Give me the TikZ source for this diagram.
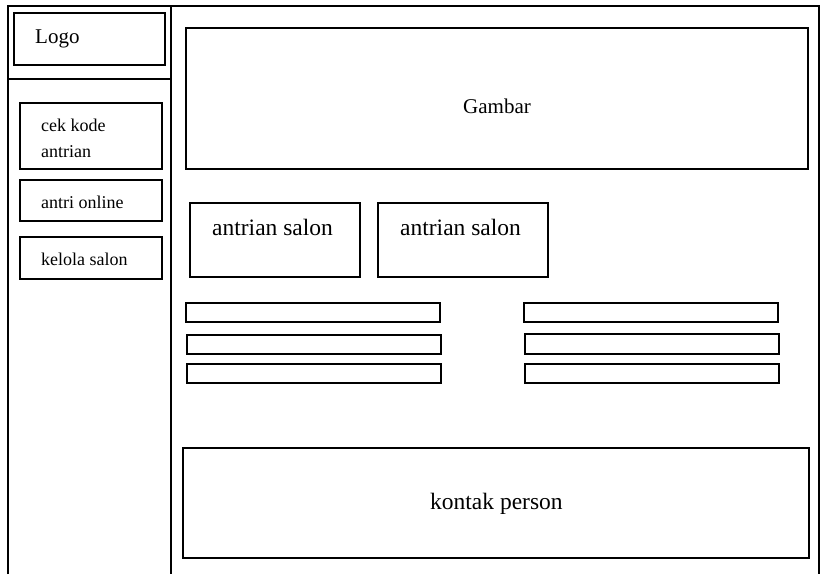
\documentclass[tikz,border=0pt]{standalone}
\usepackage{fontspec}
\setmainfont{Liberation Serif}
\tikzset{
  px/.style={x=1pt,y=-1pt},
  frame/.style={line width=1.6pt},
  boxnode/.style={draw,line width=1.6pt,rectangle,inner sep=0pt,outer sep=0pt,anchor=north west},
  smalltxt/.style={anchor=base west,inner sep=0pt,font=\fontsize{18}{26}\selectfont},
  midtxt/.style={anchor=base west,inner sep=0pt,font=\fontsize{21}{26}\selectfont},
  bigtxt/.style={anchor=base west,inner sep=0pt,font=\fontsize{23.5}{28}\selectfont},
}
\newcommand{\bx}[5]{\node[boxnode,minimum width=#4pt-#2pt,minimum height=#5pt-#3pt] (#1) at (#2,#3) {};}
\begin{document}
\begin{tikzpicture}[px]
\useasboundingbox (0,0) rectangle (822,574);
% outer frame
\coordinate (fbl) at (8,574);
\coordinate (ftl) at (8,6);
\coordinate (ftr) at (819,6);
\coordinate (fbr) at (819,574);
\coordinate (dtop) at (171,6);
\coordinate (dbot) at (171,574);
\coordinate (hl) at (8,79);
\coordinate (hr) at (171,79);
\draw[frame] (fbl) -- (ftl) -- (ftr) -- (fbr);
\draw[frame] (dtop) -- (dbot);
\draw[frame] (hl) -- (hr);
% sidebar
\bx{logo}{14}{13}{165}{65}
\bx{cek}{20}{103}{162}{169}
\bx{antri}{20}{180}{162}{221}
\bx{kelola}{20}{237}{162}{279}
\node[midtxt] (tlogo) at (35,43) {Logo};
\node[smalltxt] (tcek1) at (41,131) {cek kode};
\node[smalltxt] (tcek2) at (41,157) {antrian};
\node[smalltxt] (tantri) at (41,208) {antri online};
\node[smalltxt] (tkelola) at (41,265) {kelola salon};
% main
\bx{gambar}{186}{28}{808}{169}
\node[midtxt] (tgambar) at (463,113) {Gambar};
\bx{salon1}{190}{203}{360}{277}
\bx{salon2}{378}{203}{548}{277}
\node[bigtxt] (tsalon1) at (212,235) {antrian salon};
\node[bigtxt] (tsalon2) at (400,235) {antrian salon};
\bx{la}{186}{303}{440}{322}
\bx{lb}{187}{335}{441}{354}
\bx{lc}{187}{364}{441}{383}
\bx{ra}{524}{303}{778}{322}
\bx{rb}{525}{334}{779}{354}
\bx{rc}{525}{364}{779}{383}
\bx{kontak}{183}{448}{809}{558}
\node[bigtxt] (tkontak) at (430,509) {kontak person};
\end{tikzpicture}
\end{document}
